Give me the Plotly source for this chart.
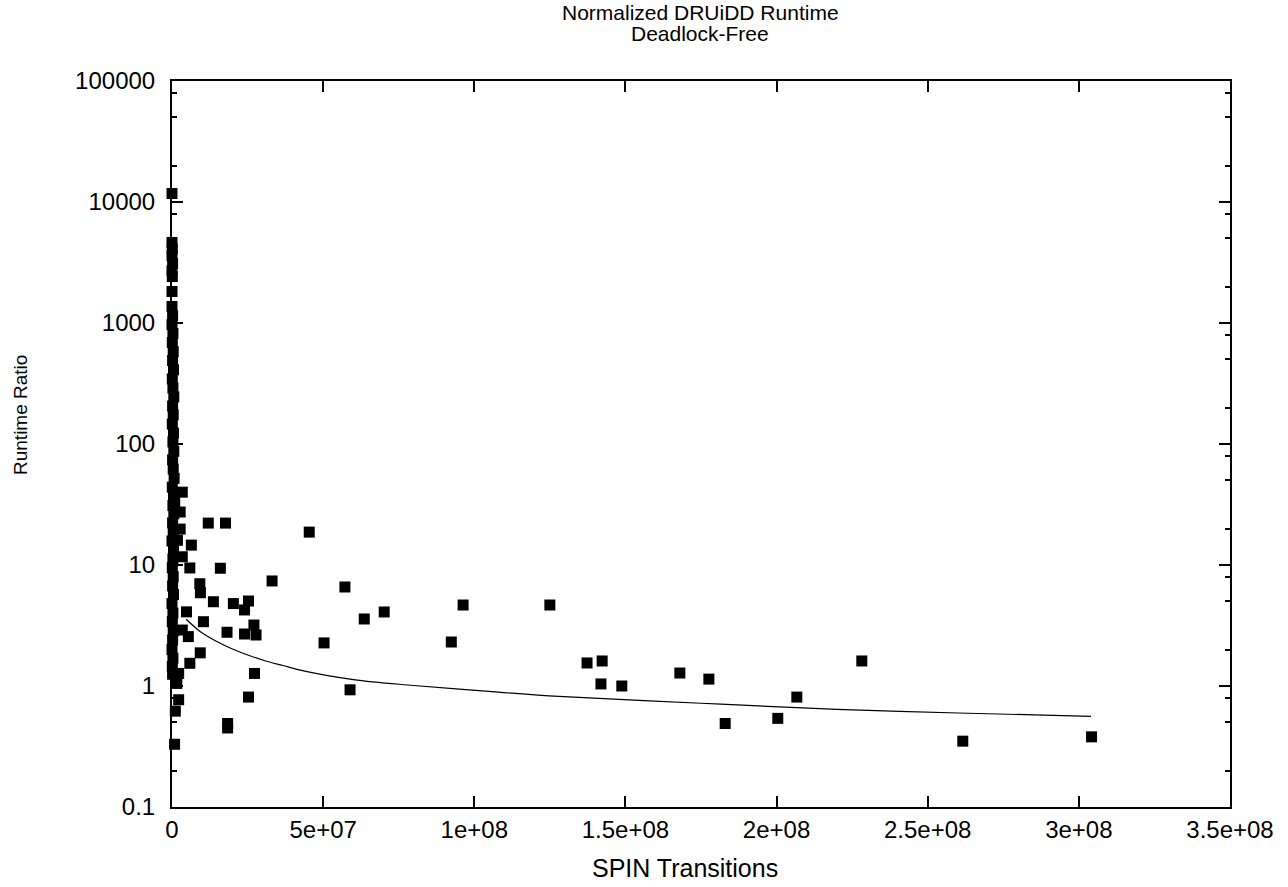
import plotly.graph_objects as go

# Dense column of runs near zero transitions (x, y)
col_x = [0, 0, 1e5, 0, 2e5, 0, 1e5, 0,
         0, 2e5, 0, 3e5, 1e5, 4e5, 2e5, 5e5, 1e5, 3e5,
         6e5, 2e5, 4e5, 1e5, 5e5, 3e5, 6e5, 2e5, 4e5, 7e5,
         1e5, 5e5, 3e5, 6e5, 2e5, 4e5, 0, 5e5, 3e5, 1e5,
         4e5, 2e5, 5e5, 0, 3e5, 1e5, 4e5, 2e5, 0, 3e5, 1e5, 2e5]
col_y = [11750, 4630, 4100, 3600, 3100, 2700, 2420, 1820,
         1370, 1150, 970, 820, 690, 580, 490, 410, 345, 290,
         245, 206, 174, 146, 123, 104, 87, 74, 62, 52,
         44, 37, 31, 26.5, 22.3, 18.8, 15.8, 13.3, 11.2, 9.5,
         8.0, 6.7, 5.7, 4.8, 4.0, 3.4, 2.85, 2.4, 2.0, 1.7, 1.45, 1.25]

# Scattered runs
pts_x = [3.4e6, 9e5, 2.7e6, 2.7e6, 1.8e6, 6.4e6, 3.4e6, 5.9e6, 1.6e7, 9.2e6,
         9.4e6, 1.37e7, 2.03e7, 2.53e7, 2.4e7, 4.8e6, 1.04e7, 1.82e7, 2.71e7, 2.4e7,
         2.78e7, 5.4e6, 3.4e6, 9.35e6, 5.9e6, 2.73e7, 2.53e7, 1.84e7, 1.84e7, 8.5e5,
         2.2e6, 1.1e6, 1.6e6, 2.2e6, 1.2e7, 1.77e7,
         4.54e7, 5.72e7, 3.31e7, 6.36e7, 7.02e7, 5.03e7, 5.89e7, 9.63e7, 9.24e7, 1.25e8,
         1.373e8, 1.423e8, 1.419e8, 1.488e8, 1.68e8, 1.776e8, 1.83e8, 2.004e8, 2.067e8,
         2.282e8, 2.616e8, 3.042e8]
pts_y = [40, 33, 27.4, 19.8, 16, 14.6, 11.7, 9.45, 9.4, 7.0,
         5.9, 4.97, 4.8, 5.04, 4.25, 4.1, 3.4, 2.78, 3.19, 2.69,
         2.64, 2.56, 2.9, 1.88, 1.54, 1.27, 0.81, 0.49, 0.45, 0.33,
         0.77, 0.62, 1.05, 1.27, 22.2, 22.2,
         18.7, 6.58, 7.38, 3.58, 4.09, 2.27, 0.93, 4.67, 2.31, 4.67,
         1.55, 1.61, 1.04, 1.0, 1.28, 1.14, 0.49, 0.54, 0.81,
         1.61, 0.35, 0.38]

# Fitted trend line
fit_x = [4.7e6, 9.4e6, 1.5e7, 2.0e7, 2.6e7, 3.1e7, 3.7e7, 4.2e7, 6.0e7, 8.0e7,
         1.08e8, 1.28e8, 1.75e8, 2.2e8, 2.6e8, 3.04e8]
fit_y = [3.56, 2.81, 2.32, 2.02, 1.77, 1.61, 1.47, 1.36, 1.13, 1.01,
         0.89, 0.82, 0.72, 0.64, 0.598, 0.562]

x_ticks = [0, 5e7, 1e8, 1.5e8, 2e8, 2.5e8, 3e8, 3.5e8]
x_labels = ["0", "5e+07", "1e+08", "1.5e+08", "2e+08", "2.5e+08", "3e+08", "3.5e+08"]
y_ticks = [0.1, 1, 10, 100, 1000, 10000, 100000]
y_labels = ["0.1", "1", "10", "100", "1000", "10000", "100000"]
y_minor = [m * 10 ** e for e in range(-1, 5) for m in (2, 5, 8)]

title_lines = ["Normalized DRUiDD Runtime", "Deadlock-Free"]

FONT = "Liberation Sans, Arial, sans-serif"
L, R, T, B = 172, 1230, 81, 807
PW, PH = R - L, B - T

def px(xp):
    return (xp - L) / PW

def py(yp):
    return (B - yp) / PH

fig = go.Figure()
fig.add_trace(go.Scatter(x=col_x + pts_x, y=col_y + pts_y, mode="markers",
                         marker=dict(symbol="square", size=11, color="black",
                                     line=dict(width=0)),
                         cliponaxis=False, showlegend=False))
fig.add_trace(go.Scatter(x=fit_x, y=fit_y, mode="lines",
                         line=dict(color="black", width=1.2, shape="spline"),
                         showlegend=False))

ann = []
for text, yp in zip(title_lines, (13, 33)):
    ann.append(dict(text=text, x=px(700), xref="paper", xanchor="center",
                    y=py(yp), yref="paper", yanchor="middle",
                    showarrow=False, font=dict(size=21)))
ann.append(dict(text="Runtime Ratio", x=px(20), xref="paper", xanchor="center",
                y=py(415), yref="paper", yanchor="middle", textangle=-90,
                showarrow=False, font=dict(size=19)))
ann.append(dict(text="SPIN Transitions", x=px(685), xref="paper", xanchor="center",
                y=py(868), yref="paper", yanchor="middle",
                showarrow=False, font=dict(size=25)))

fig.update_layout(
    width=1288, height=887,
    margin=dict(l=L, r=1288 - R, t=T, b=887 - B),
    paper_bgcolor="white", plot_bgcolor="white",
    font=dict(family=FONT, size=24, color="black"),
    annotations=ann,
    xaxis=dict(range=[0, 3.5e8], tickmode="array", tickvals=x_ticks, ticktext=x_labels,
               ticks="inside", ticklen=11, tickwidth=1.5, tickcolor="black",
               showline=True, linecolor="black", linewidth=2, mirror="allticks",
               showgrid=False, zeroline=False, automargin=False),
    yaxis=dict(type="log", range=[-1, 5], tickmode="array", tickvals=y_ticks, ticktext=y_labels,
               ticks="inside", ticklen=11, tickwidth=1.5, tickcolor="black",
               showline=True, linecolor="black", linewidth=2, mirror="allticks",
               showgrid=False, zeroline=False, ticklabelstandoff=10, automargin=False,
               minor=dict(tickmode="array", tickvals=y_minor, ticks="inside",
                          ticklen=5, tickwidth=1.5, tickcolor="black", showgrid=False)),
)

fig.write_html("out.html")
